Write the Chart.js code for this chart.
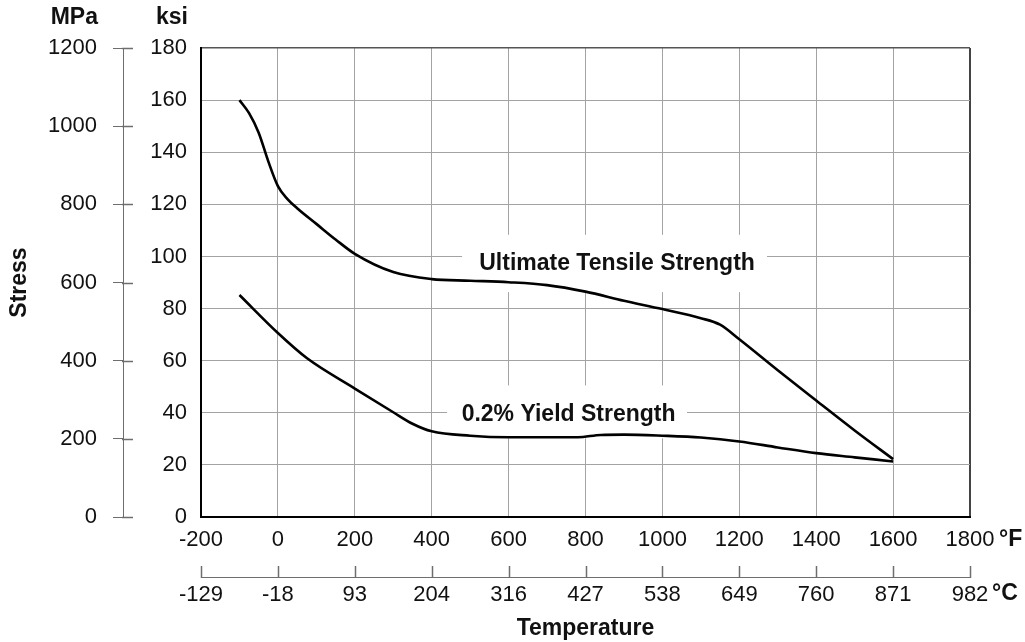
<!DOCTYPE html>
<html>
<head>
<meta charset="utf-8">
<script src="https://cdn.jsdelivr.net/npm/chart.js@4.4.0/dist/chart.umd.min.js"></script>
<style>
  html, body { margin: 0; padding: 0; background: #fff; }
  #wrap { width: 1025px; height: 642px; }
</style>
</head>
<body>
<div id="wrap"><canvas id="stressChart" width="1025" height="642"></canvas></div>
<script>
// ---------------------------------------------------------------------------
// Data (temperature in °F, stress in ksi)
// ---------------------------------------------------------------------------
const utsTempF = [-100, -75, -50, -25, 0, 25, 50, 100, 150, 200, 300, 400, 500, 600, 700, 800, 900, 1000, 1100, 1150, 1200, 1300, 1400, 1500, 1600];
const utsKsi   = [160, 155, 147.5, 136.5, 127, 122, 118.5, 112.5, 106.5, 101, 94, 91.3, 90.7, 90.1, 89, 86.5, 83, 79.8, 76.3, 73.8, 68.2, 56.3, 44.7, 33.2, 22.2];

const ysTempF = [-100, 0, 75, 200, 300, 350, 400, 500, 600, 700, 780, 840, 900, 1000, 1100, 1200, 1300, 1400, 1500, 1600];
const ysKsi   = [85.2, 70.6, 61, 49.3, 40.2, 35.8, 32.9, 31.2, 30.6, 30.6, 30.6, 31.5, 31.6, 31.2, 30.5, 29, 26.7, 24.5, 22.9, 21.3];

// Secondary Celsius tick labels, one per 200 °F step
const celsiusLabels = ['-129', '-18', '93', '204', '316', '427', '538', '649', '760', '871', '982'];

const FONT = '"Liberation Sans", Arial, Helvetica, sans-serif';
const INK = '#111';
const GRID = '#a3a3a3';
const AXIS_GREY = '#6e6e6e';

// In-chart curve labels: white box (°F / ksi range) and text anchor
const curveLabels = [
  { text: 'Ultimate Tensile Strength', box: [479, 1272, 86.3, 108.3], at: [882, 97.3] },
  { text: '0.2% Yield Strength',       box: [440, 1064, 30.2, 50.5],  at: [756, 39.3] }
];

const extrasPlugin = {
  id: 'extras',
  beforeDatasetsDraw(chart) {
    const { ctx, scales: { x, y } } = chart;
    ctx.save();
    ctx.fillStyle = '#fff';
    curveLabels.forEach(l => {
      const left = x.getPixelForValue(l.box[0]);
      const right = x.getPixelForValue(l.box[1]);
      const top = y.getPixelForValue(l.box[3]);
      const bottom = y.getPixelForValue(l.box[2]);
      ctx.fillRect(left, top, right - left, bottom - top);
    });
    ctx.restore();
  },
  afterDatasetsDraw(chart) {
    const { ctx, scales: { x, y } } = chart;
    ctx.save();
    ctx.fillStyle = INK;
    ctx.font = 'bold 23px ' + FONT;
    ctx.textAlign = 'center';
    ctx.textBaseline = 'middle';
    curveLabels.forEach(l => {
      ctx.fillText(l.text, x.getPixelForValue(l.at[0]), y.getPixelForValue(l.at[1]));
    });
    ctx.restore();
  },
  afterDraw(chart) {
    const { ctx, scales } = chart;
    const mpa = scales.yMPa;
    const cel = scales.xC;
    const x = scales.x;
    ctx.save();
    ctx.strokeStyle = AXIS_GREY;
    ctx.lineWidth = 1.5;
    // MPa ticks cross the axis line
    mpa.ticks.forEach(t => {
      const py = Math.round(mpa.getPixelForValue(t.value)) + 0.5;
      ctx.beginPath();
      ctx.moveTo(mpa.right - 1, py);
      ctx.lineTo(mpa.right + 10, py);
      ctx.stroke();
    });
    // Celsius ticks point up from the axis line
    const lineY = Math.round(cel.top);
    for (let v = cel.min; v <= cel.max; v += 200) {
      const px = Math.round(cel.getPixelForValue(v)) + 0.5;
      ctx.beginPath();
      ctx.moveTo(px, lineY + 1);
      ctx.lineTo(px, lineY - 11);
      ctx.stroke();
    }
    // unit headers and suffixes
    ctx.fillStyle = INK;
    ctx.font = 'bold 23px ' + FONT;
    ctx.textBaseline = 'middle';
    ctx.textAlign = 'right';
    ctx.fillText('MPa', mpa.right - 25, 18);
    ctx.fillText('ksi', scales.y.right - 13, 18);
    ctx.textAlign = 'left';
    ctx.fillText('°F', x.right + 29, 540);
    ctx.fillText('°C', x.right + 22, 594);
    ctx.restore();
  }
};

Chart.defaults.font.family = FONT;
Chart.defaults.color = INK;

const toPoints = (xs, ys) => xs.map((v, i) => ({ x: v, y: ys[i] }));
const plain = v => String(v);

new Chart(document.getElementById('stressChart'), {
  type: 'line',
  data: {
    datasets: [
      {
        label: 'Ultimate Tensile Strength',
        data: toPoints(utsTempF, utsKsi),
        borderColor: '#000',
        borderWidth: 2.6,
        pointRadius: 0,
        cubicInterpolationMode: 'monotone',
        fill: false,
        xAxisID: 'x',
        yAxisID: 'y'
      },
      {
        label: '0.2% Yield Strength',
        data: toPoints(ysTempF, ysKsi),
        borderColor: '#000',
        borderWidth: 2.6,
        pointRadius: 0,
        cubicInterpolationMode: 'monotone',
        fill: false,
        xAxisID: 'x',
        yAxisID: 'y'
      }
    ]
  },
  options: {
    responsive: false,
    devicePixelRatio: 1,
    animation: false,
    layout: { padding: { top: 48, right: 55, bottom: 0, left: 0 } },
    plugins: {
      legend: { display: false },
      tooltip: { enabled: false }
    },
    scales: {
      x: {
        type: 'linear',
        position: 'bottom',
        weight: 0,
        min: -200,
        max: 1800,
        afterFit(scale) { scale.height = 60; },
        ticks: {
          stepSize: 200,
          autoSkip: false,
          maxRotation: 0,
          padding: 10,
          color: INK,
          font: { size: 22 },
          callback: plain
        },
        grid: {
          drawTicks: false,
          color: c => c.tick.value === 1800 ? '#444' : (c.tick.value === -200 ? '#000' : GRID),
          lineWidth: c => (c.tick.value === 1800 || c.tick.value === -200) ? 2 : 1
        },
        border: { display: true, color: '#000', width: 2 }
      },
      xC: {
        type: 'linear',
        position: 'bottom',
        weight: 1,
        min: -200,
        max: 1800,
        afterFit(scale) { scale.height = 65; },
        ticks: {
          stepSize: 200,
          autoSkip: false,
          maxRotation: 0,
          padding: 5,
          color: INK,
          font: { size: 22 },
          callback: (value, index) => celsiusLabels[index]
        },
        grid: { drawOnChartArea: false, drawTicks: false },
        border: { display: true, color: AXIS_GREY, width: 1 },
        title: {
          display: true,
          text: 'Temperature',
          color: INK,
          font: { size: 23, weight: 'bold' },
          padding: { top: 0, bottom: 0 }
        }
      },
      y: {
        type: 'linear',
        position: 'left',
        weight: 0,
        min: 0,
        max: 180,
        afterFit(scale) { scale.width = 78; },
        ticks: {
          stepSize: 20,
          padding: 14,
          color: INK,
          font: { size: 22 },
          callback: plain
        },
        grid: {
          drawTicks: false,
          color: c => c.tick.value === 180 ? '#555' : (c.tick.value === 0 ? '#000' : GRID),
          lineWidth: c => c.tick.value === 180 ? 1.5 : (c.tick.value === 0 ? 2 : 1)
        },
        border: { display: true, color: '#000', width: 2 }
      },
      yMPa: {
        type: 'linear',
        position: 'left',
        weight: 1,
        min: 0,
        max: 1200,
        afterFit(scale) { scale.width = 123; },
        ticks: {
          stepSize: 200,
          padding: 16,
          color: INK,
          font: { size: 22 },
          callback: plain
        },
        grid: {
          drawOnChartArea: false,
          drawTicks: true,
          tickLength: 10,
          color: AXIS_GREY
        },
        border: { display: true, color: AXIS_GREY, width: 1 },
        title: {
          display: true,
          text: 'Stress',
          color: INK,
          font: { size: 23, weight: 'bold' },
          padding: { top: 6, bottom: 0 }
        }
      }
    }
  },
  plugins: [extrasPlugin]
});
</script>
</body>
</html>
